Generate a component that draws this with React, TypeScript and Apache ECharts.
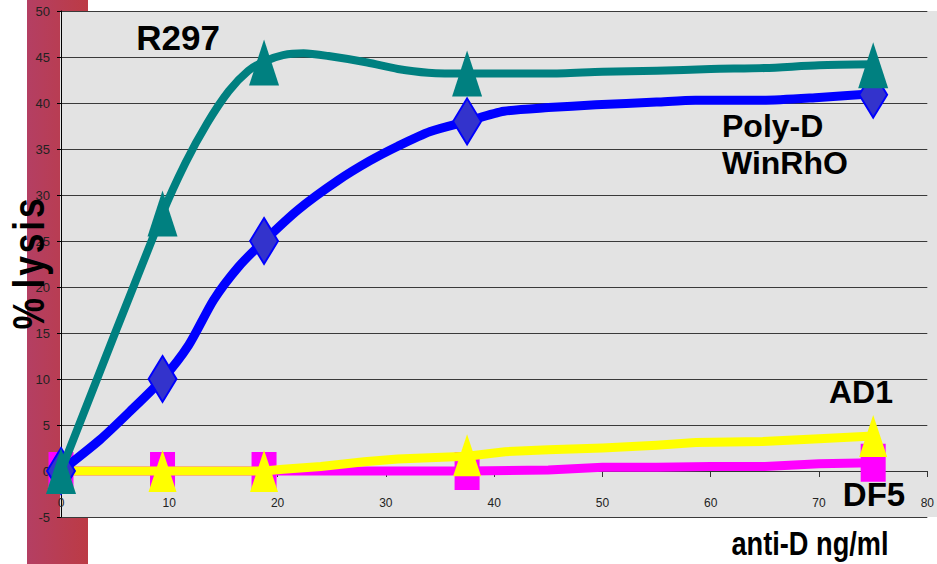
import React, { useEffect, useRef } from "react";
import * as echarts from "echarts";

// ---- data ----
const xTicks = [0, 10, 20, 30, 40, 50, 60, 70, 80];
const yTicks = [-5, 0, 5, 10, 15, 20, 25, 30, 35, 40, 45, 50];

// measured doses (markers)
const doses = [0, 9.375, 18.75, 37.5, 75];
const r297Points = [0, 28, 44.4, 43.2, 44.1];
const polyDPoints = [0, 10, 25, 38, 40.9];
const ad1Points = [0, 0, 0, 1.7, 3.8];
const df5Points = [0, 0, 0, 0, 0.9];

// traced curves
const r297CurveX = [0, 9.375, 11.5, 13.5, 15.5, 17.3, 18.75, 20.5, 22.4, 24.7, 28.3, 31.1, 33.9, 37.5, 45, 50, 55, 60, 65, 70, 75];
const r297CurveY = [0, 28, 33.5, 37.8, 41.3, 43.5, 44.5, 45.2, 45.4, 45.1, 44.4, 43.7, 43.3, 43.2, 43.2, 43.4, 43.5, 43.7, 43.8, 44.1, 44.2];

const polyDCurveX = [0, 3.6, 6.3, 9.375, 11.8, 14.1, 16.4, 18.75, 21.9, 25.6, 28.5, 31.1, 34.1, 37.5, 40.9, 45, 49.4, 55, 58.6, 64.8, 70, 75];
const polyDCurveY = [0, 3.4, 6.4, 10, 13.7, 18.6, 22.2, 25, 28.4, 31.6, 33.7, 35.3, 36.9, 38, 39.1, 39.5, 39.8, 40.1, 40.3, 40.3, 40.6, 41];

const ad1CurveX = [0, 9.375, 18.75, 20.5, 24, 28, 31.1, 37.5, 41, 45, 50, 55, 58.6, 64.8, 70, 75];
const ad1CurveY = [0, 0, 0, 0.2, 0.5, 1.0, 1.3, 1.6, 2.1, 2.3, 2.5, 2.8, 3.1, 3.2, 3.5, 3.8];

const df5CurveX = [0, 9.375, 18.75, 37.5, 45, 50, 55, 60, 65, 70, 75];
const df5CurveY = [0, 0, 0, 0, 0.1, 0.4, 0.4, 0.5, 0.5, 0.8, 0.9];

const pairs = (xs: number[], ys: number[]) => xs.map((x, i) => [x, ys[i]]);

const SANS = "'Liberation Sans', Arial, sans-serif";

export default function App() {
  const ref = useRef<HTMLDivElement>(null);
  useEffect(() => {
    if (!ref.current) return;
    const chart = echarts.init(ref.current, undefined, { renderer: "svg" });
    const line = (name: string, xs: number[], ys: number[], color: string, width: number, z: number, smooth: number) => ({
      name,
      type: "line",
      data: pairs(xs, ys),
      symbol: "none",
      smooth,
      clip: false,
      z,
      lineStyle: { color, width, join: "miter", opacity: 1 },
    });
    const marks = (name: string, ys: number[], symbol: string, size: number[], itemStyle: any, z: number) => ({
      name: name + " markers",
      type: "scatter",
      data: pairs(doses, ys),
      symbol,
      symbolSize: size,
      clip: false,
      z,
      itemStyle: { opacity: 1, ...itemStyle },
    });
    chart.setOption({
      animation: false,
      grid: { left: 61, top: 11, right: 5, bottom: 47, containLabel: false },
      xAxis: {
        type: "value",
        min: xTicks[0],
        max: xTicks[xTicks.length - 1],
        interval: 10,
        offset: -46,
        axisLine: { show: true, onZero: false, lineStyle: { color: "#333", width: 1 } },
        axisTick: { show: true, length: 6, lineStyle: { color: "#333" } },
        axisLabel: { margin: 26, fontSize: 12, color: "#222", fontFamily: SANS },
        splitLine: { show: false },
      },
      yAxis: {
        type: "value",
        min: yTicks[0],
        max: yTicks[yTicks.length - 1],
        interval: 5,
        axisLine: { show: true, onZero: false, lineStyle: { color: "#000", width: 1 } },
        axisTick: { show: true, length: 4, lineStyle: { color: "#000" } },
        axisLabel: { margin: 11, fontSize: 13, color: "#222", fontFamily: SANS },
        splitLine: { show: true, lineStyle: { color: "#3a3a3a", width: 1 } },
      },
      graphic: [
        {
          type: "rect",
          z: -20,
          shape: { x: 27, y: 0, width: 61, height: 564 },
          style: {
            fill: new echarts.graphic.LinearGradient(0, 0, 1, 0, [
              { offset: 0, color: "#b43f63" },
              { offset: 1, color: "#bc3b45" },
            ]),
          },
          silent: true,
        },
        {
          type: "rect",
          z: -10,
          shape: { x: 60, y: 11, width: 877, height: 506 },
          style: { fill: "#e3e3e3" },
          silent: true,
        },
        {
          type: "text",
          z: 100,
          x: 29,
          y: 264,
          rotation: Math.PI / 2,
          scaleX: 0.8,
          style: {
            text: "% l\u200ay\u200as\u200ai\u200as",
            fontSize: 44,
            fontWeight: "bold",
            fontFamily: SANS,
            fill: "#000",
            textAlign: "center",
            textVerticalAlign: "middle",
          },
        },
        {
          type: "text",
          z: 100,
          x: 810,
          y: 543,
          scaleX: 0.8,
          style: {
            text: "anti-D ng/ml",
            fontSize: 34,
            fontWeight: "bold",
            fontFamily: SANS,
            fill: "#000",
            textAlign: "center",
            textVerticalAlign: "middle",
          },
        },
        {
          type: "text",
          z: 100,
          x: 178,
          y: 37,
          style: { text: "R297", fontSize: 35, fontWeight: "bold", fontFamily: SANS, fill: "#000", textAlign: "center", textVerticalAlign: "middle" },
        },
        {
          type: "text",
          z: 100,
          x: 722,
          y: 126,
          style: { text: "Poly-D", fontSize: 32, fontWeight: "bold", fontFamily: SANS, fill: "#000", textAlign: "left", textVerticalAlign: "middle" },
        },
        {
          type: "text",
          z: 100,
          x: 722,
          y: 163,
          style: { text: "WinRhO", fontSize: 32, fontWeight: "bold", fontFamily: SANS, fill: "#000", textAlign: "left", textVerticalAlign: "middle" },
        },
        {
          type: "text",
          z: 100,
          x: 861,
          y: 392,
          style: { text: "AD1", fontSize: 32, fontWeight: "bold", fontFamily: SANS, fill: "#000", textAlign: "center", textVerticalAlign: "middle" },
        },
        {
          type: "text",
          z: 100,
          x: 874,
          y: 494,
          style: { text: "DF5", fontSize: 33, fontWeight: "bold", fontFamily: SANS, fill: "#000", textAlign: "center", textVerticalAlign: "middle" },
        },
      ],
      series: [
        line("DF5", df5CurveX, df5CurveY, "#ff00ff", 9, 2, 0),
        marks("DF5", df5Points, "rect", [25, 38], { color: "#ff00ff" }, 3),
        line("AD1", ad1CurveX, ad1CurveY, "#ffff00", 9, 4, 0),
        marks("AD1", ad1Points, "triangle", [28, 42], { color: "#ffff00" }, 5),
        line("Poly-D WinRhO", polyDCurveX, polyDCurveY, "#0000ff", 9, 6, 0.25),
        marks("Poly-D WinRhO", polyDPoints, "diamond", [28, 46], { color: "#3333cc", borderColor: "#0000ff", borderWidth: 2 }, 7),
        line("R297", r297CurveX, r297CurveY, "#008080", 8, 8, 0.25),
        marks("R297", r297Points, "triangle", [30, 46], { color: "#008080" }, 9),
      ],
    });
    return () => chart.dispose();
  }, []);
  return <div ref={ref} style={{ position: "absolute", left: 0, top: 0, width: 937, height: 564 }} />;
}
